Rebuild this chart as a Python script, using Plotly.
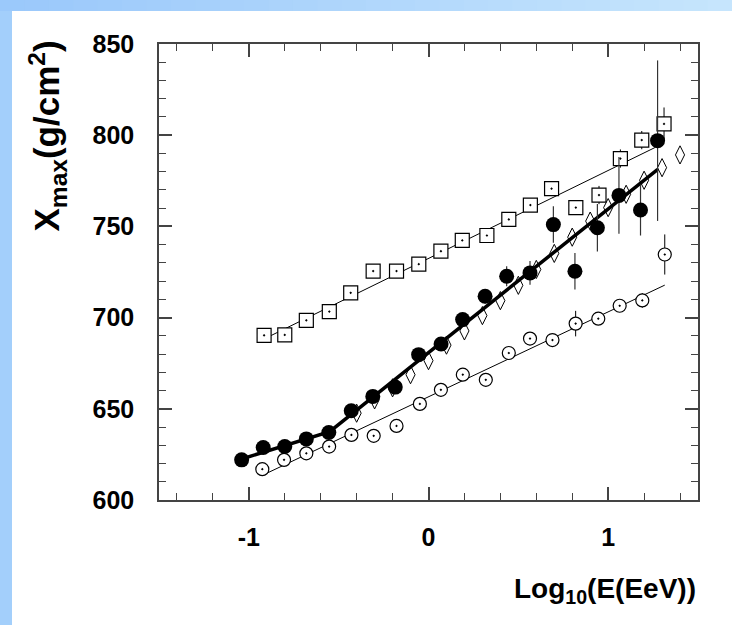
import plotly.graph_objects as go

# ---- data ----
sq_x = [-0.915, -0.80, -0.68, -0.552, -0.433, -0.308, -0.178, -0.054, 0.069, 0.188,
        0.325, 0.447, 0.567, 0.685, 0.82, 0.949, 1.068, 1.187, 1.311]
sq_y = [690.3, 690.5, 698.5, 703.3, 713.6, 725.5, 725.5, 729.3, 736.4, 742.3,
        745.0, 753.8, 761.7, 770.7, 760.3, 767.2, 787.2, 797.3, 806.2]
sq_err = [3, 2, 2, 3, 3, 3, 3, 3, 3, 3, 3, 3, 3, 4, 4, 5, 5, 5, 9]

oc_x = [-0.925, -0.804, -0.68, -0.553, -0.429, -0.305, -0.178, -0.048, 0.069, 0.191,
        0.319, 0.447, 0.565, 0.69, 0.819, 0.945, 1.064, 1.19, 1.315]
oc_y = [616.9, 622.0, 625.6, 629.3, 635.7, 635.2, 640.6, 652.7, 660.4, 668.7,
        665.9, 680.6, 688.5, 687.7, 696.7, 699.4, 706.5, 709.4, 734.6]
oc_err = [3, 2, 2, 2, 2, 2, 2, 2, 2, 2, 2, 3, 3, 3, 7, 3, 3, 4, 11]

dm_x = [-0.4, -0.3, -0.2, -0.1, 0.0, 0.1, 0.2, 0.3, 0.4, 0.5, 0.6, 0.7, 0.8, 0.9,
        1.0, 1.1, 1.2, 1.3, 1.4]
dm_y = [647.6, 654.9, 661.5, 668.7, 676.4, 684.9, 692.7, 701.1, 709.3, 717.7, 726.4,
        735.2, 744.1, 752.9, 760.3, 767.6, 775.3, 782.2, 789.2]

fc_x = [-1.04, -0.92, -0.80, -0.68, -0.555, -0.43, -0.31, -0.185, -0.055, 0.07,
        0.19, 0.315, 0.435, 0.565, 0.695, 0.815, 0.94, 1.06, 1.18, 1.275]
fc_y = [622.0, 628.8, 629.3, 633.5, 637.0, 648.9, 656.8, 661.9, 679.7, 685.5,
        698.9, 711.7, 722.7, 724.5, 751.0, 725.4, 749.3, 767.0, 759.0, 797.0]
fc_err = [3, 2, 2, 2, 2, 2, 2, 2, 2, 2, 3, 4, 5.5, 6.5, 10, 10, 13, 21, 14, 44]

sq_fit_x = [-0.915, 1.26]
sq_fit_y = [688.3, 793.2]
oc_fit_x = [-0.921, 1.315]
oc_fit_y = [613.7, 717.8]
fc_fit_x = [-1.04, -0.55, 1.276]
fc_fit_y = [622.5, 637.5, 781.3]

x_tick_vals = [-1, 0, 1]
x_tick_text = ["-1", "0", "1"]
y_tick_vals = [600, 650, 700, 750, 800, 850]
y_tick_text = ["600", "650", "700", "750", "800", "850"]

FONT = "Liberation Sans, Arial, sans-serif"

fig = go.Figure()

fig.add_trace(go.Scatter(x=sq_fit_x, y=sq_fit_y, mode="lines",
                         line=dict(color="black", width=1), showlegend=False))
fig.add_trace(go.Scatter(x=oc_fit_x, y=oc_fit_y, mode="lines",
                         line=dict(color="black", width=1), showlegend=False))

fig.add_trace(go.Scatter(
    x=sq_x, y=sq_y, mode="markers", showlegend=False,
    marker=dict(symbol="square-dot", size=14, color="white",
                line=dict(width=1.2, color="black")),
    error_y=dict(type="data", array=sq_err, width=0, thickness=1, color="black")))

fig.add_trace(go.Scatter(
    x=oc_x, y=oc_y, mode="markers", showlegend=False,
    marker=dict(symbol="circle-dot", size=13, color="white",
                line=dict(width=1.2, color="black")),
    error_y=dict(type="data", array=oc_err, width=0, thickness=1, color="black")))

fig.add_trace(go.Scatter(
    x=dm_x, y=dm_y, mode="markers", showlegend=False,
    marker=dict(symbol="diamond-tall-open", size=13, color="black", line=dict(width=1))))

fig.add_trace(go.Scatter(x=fc_fit_x, y=fc_fit_y, mode="lines",
                         line=dict(color="black", width=3.5), showlegend=False))

fig.add_trace(go.Scatter(
    x=fc_x, y=fc_y, mode="markers", showlegend=False,
    marker=dict(symbol="circle", size=15, color="black"),
    error_y=dict(type="data", array=fc_err, width=0, thickness=1.2, color="#333333")))

axis_common = dict(
    showgrid=False, zeroline=False, showline=True, linecolor="#444444", linewidth=1.5,
    mirror="allticks", ticks="inside", ticklen=13, tickwidth=1.5, tickcolor="#444444",
    tickfont=dict(family=FONT, size=25, color="black", weight="bold"),
)

fig.update_xaxes(range=[-1.5, 1.5], tickvals=x_tick_vals, ticktext=x_tick_text,
                 minor=dict(dtick=0.2, ticks="inside", ticklen=7, tickwidth=1.2,
                            tickcolor="#444444"),
                 ticklabelstandoff=14, **axis_common)
fig.update_yaxes(range=[600, 850], tickvals=y_tick_vals, ticktext=y_tick_text,
                 minor=dict(dtick=10, ticks="inside", ticklen=7, tickwidth=1.2,
                            tickcolor="#444444"),
                 ticklabelstandoff=18, **axis_common)

# page frame: light blue strips at top and left
W, H = 732, 625
ml, mr, mt, mb = 159, 34, 44, 125
pw, ph = W - ml - mr, H - mt - mb


def px(xp):
    return (xp - ml) / pw


def py(yp):
    return (H - mb - yp) / ph


shapes = []
n = 30
c0 = (155, 201, 251)
c1 = (198, 229, 253)
for i in range(n):
    t = i / (n - 1)
    col = "rgb(%d,%d,%d)" % tuple(int(a + (b - a) * t) for a, b in zip(c0, c1))
    shapes.append(dict(type="rect", xref="paper", yref="paper",
                       x0=px(W * i / n), x1=px(W * (i + 1) / n) + 0.002,
                       y0=py(11), y1=py(0), fillcolor=col, line=dict(width=0),
                       layer="above"))
shapes.append(dict(type="rect", xref="paper", yref="paper",
                   x0=px(0), x1=px(12), y0=py(H), y1=py(11),
                   fillcolor="rgb(163,207,251)", line=dict(width=0), layer="above"))

annotations = [
    dict(text="<b>X<sub>max</sub>(g/cm<sup>2</sup>)</b>", xref="paper", yref="paper",
         x=px(47), y=py(38), xanchor="center", yanchor="top", textangle=-90,
         showarrow=False, font=dict(family=FONT, size=35, color="black")),
    dict(text="<b>Log<sub>10</sub>(E(EeV))</b>", xref="paper", yref="paper",
         x=px(605), y=py(590), xanchor="center", yanchor="middle",
         showarrow=False, font=dict(family=FONT, size=28, color="black")),
]

fig.update_layout(
    width=W, height=H, autosize=False,
    margin=dict(l=ml, r=mr, t=mt, b=mb),
    paper_bgcolor="white", plot_bgcolor="white",
    shapes=shapes, annotations=annotations,
)

fig.write_html("out.html")
